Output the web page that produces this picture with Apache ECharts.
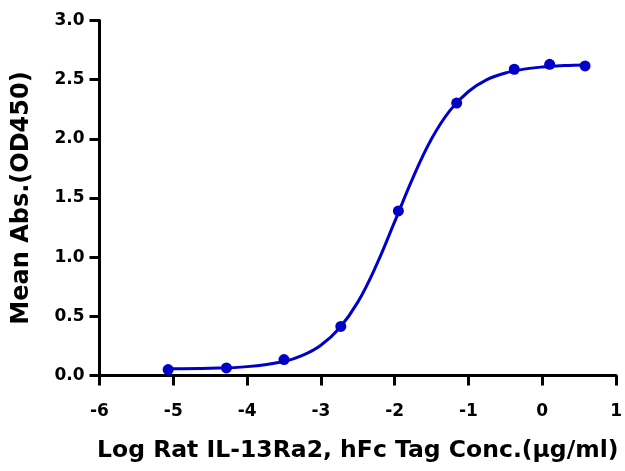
<!DOCTYPE html>
<html>
<head>
<meta charset="utf-8">
<script src="https://cdn.jsdelivr.net/npm/echarts@6/dist/echarts.min.js"></script>
<style>html,body{margin:0;padding:0;background:#fff;}#c{width:625px;height:471px;}</style>
</head>
<body>
<div id="c"></div>
<script>
// Measured points (log concentration, mean OD450)
var pointX = [-5.07, -4.28, -3.50, -2.73, -1.95, -1.16, -0.38, 0.10, 0.58];
var pointY = [0.050, 0.064, 0.135, 0.415, 1.391, 2.302, 2.588, 2.630, 2.616];
// Fitted curve
var curveX = [-5.07, -4.5, -4.0, -3.5, -3.25, -3.0, -2.75, -2.5, -2.25, -2.0, -1.75, -1.5, -1.25, -1.0, -0.75, -0.5, -0.25, 0.0, 0.3, 0.58];
var curveY = [0.057, 0.061, 0.075, 0.119, 0.170, 0.256, 0.400, 0.620, 0.930, 1.300, 1.675, 2.000, 2.240, 2.400, 2.500, 2.556, 2.589, 2.607, 2.619, 2.624];
var xTicks = [-6, -5, -4, -3, -2, -1, 0, 1];
var yTicks = [0.0, 0.5, 1.0, 1.5, 2.0, 2.5, 3.0];
var xTitle = 'Log Rat IL-13Ra2, hFc Tag Conc.(µg/ml)';
var yTitle = 'Mean Abs.(OD450)';

var blue = '#0000c8';
var font = 'DejaVu Sans';
var chart = echarts.init(document.getElementById('c'));
chart.setOption({
  animation: false,
  grid: {left: 99.5, right: 5.5, top: 20.5, bottom: 95.5},
  xAxis: {
    type: 'value', min: xTicks[0], max: xTicks[xTicks.length-1], interval: 1,
    splitLine: {show: false},
    axisLine: {show: true, onZero: false, lineStyle: {color: '#000', width: 3}},
    axisTick: {show: true, length: 10, lineStyle: {color: '#000', width: 3}},
    axisLabel: {color: '#000', fontFamily: font, fontWeight: 'bold', fontSize: 17, margin: 28},
    name: xTitle, nameLocation: 'middle', nameGap: 63,
    nameTextStyle: {color: '#000', fontFamily: font, fontWeight: 'bold', fontSize: 23.5}
  },
  yAxis: {
    type: 'value', min: yTicks[0], max: yTicks[yTicks.length-1], interval: 0.5,
    splitLine: {show: false},
    axisLine: {show: true, onZero: false, lineStyle: {color: '#000', width: 3}},
    axisTick: {show: true, length: 10, lineStyle: {color: '#000', width: 3}},
    axisLabel: {color: '#000', fontFamily: font, fontWeight: 'bold', fontSize: 17, margin: 15,
      formatter: function(v){ return v.toFixed(1); }},
    name: yTitle, nameLocation: 'middle', nameGap: 66,
    nameTextStyle: {color: '#000', fontFamily: font, fontWeight: 'bold', fontSize: 24}
  },
  series: [
    {
      type: 'line', smooth: 0.4, showSymbol: false, silent: true,
      data: curveX.map(function(x, i){ return [x, curveY[i]]; }),
      lineStyle: {color: blue, width: 3}
    },
    {
      type: 'scatter', symbol: 'circle', symbolSize: 11,
      data: pointX.map(function(x, i){ return [x, pointY[i]]; }),
      itemStyle: {color: blue, opacity: 1}
    }
  ]
});
</script>
</body>
</html>
